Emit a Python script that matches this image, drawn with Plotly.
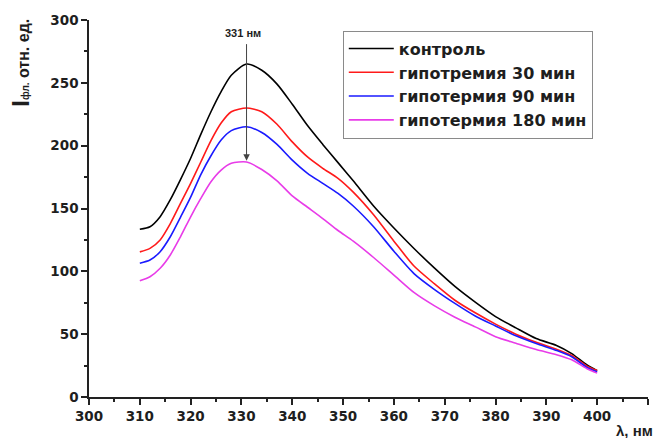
import plotly.graph_objects as go

wavelength = [310, 312, 314, 316, 318, 320, 322, 324, 326, 328, 331, 334, 337, 340, 343, 346, 349, 352,
              356, 360, 364, 368, 372, 376, 380, 384, 388, 392, 395, 398, 400]
control = [133.5, 135.5, 143.5, 157, 173, 190, 209, 227, 243, 256, 265, 260, 249, 233, 216, 201, 186.5, 172,
           152, 134.5, 118, 102.5, 88, 75.5, 64, 55, 46.5, 41, 34.5, 25.5, 21]
hypo30 = [115.5, 118.3, 125, 138, 154, 170, 187, 204, 218, 227, 230, 227, 217, 203, 191, 182, 174, 163,
          145, 124, 104, 90, 77, 67, 58, 50, 43.5, 38, 33, 24.5, 21]
hypo90 = [106.5, 109, 115.6, 127.5, 143, 159, 177, 192, 204.5, 212, 215, 210.5, 201, 188.5, 178, 170, 162, 152,
          135.5, 116, 98, 85.5, 74.5, 64.5, 56.5, 48.7, 42.5, 37, 32, 23.5, 20]
hypo180 = [92.5, 95.7, 102.4, 113, 127.5, 143.4, 158, 171.3, 180.6, 186, 187, 181, 172, 160, 151, 142, 132.5, 124,
           111, 97, 83, 72.5, 63.5, 55.8, 48, 42.8, 37.8, 33.7, 29.6, 22.5, 19]

series_names = ["контроль", "гипотремия 30 мин", "гипотермия 90 мин", "гипотермия 180 мин"]
series_values = [control, hypo30, hypo90, hypo180]
colors = ["#000000", "#ff1a1a", "#1a1aff", "#e83ce8"]

x_ticks = list(range(300, 411, 10))
y_ticks = list(range(0, 301, 50))
peak_x = 331
peak_label = "331 нм"

FONT = "Liberation Sans, Arial, sans-serif"
TXT = "#1e1e1e"

fig = go.Figure()
for name, vals, c in zip(series_names, series_values, colors):
    fig.add_trace(go.Scatter(x=wavelength, y=vals, mode="lines", name=name,
                             line=dict(color=c, width=1.6, shape="spline", smoothing=0.7)))

tick_font = dict(family="DejaVu Sans", size=13.5, color=TXT, weight="bold")

# page body has an 8px margin; figure sized so the page does not overflow
fig.update_layout(
    width=654, height=430,
    margin=dict(l=81, r=14, t=12, b=41),
    paper_bgcolor="white", plot_bgcolor="white",
    font=dict(family=FONT, size=15, color=TXT, weight="bold"),
    showlegend=True,
    legend=dict(x=0.454, y=0.972, xanchor="left", yanchor="top",
                bordercolor="#8a8a8a", borderwidth=1, bgcolor="white",
                font=dict(family="DejaVu Sans", size=16, color=TXT, weight="bold"),
                tracegroupgap=0, itemwidth=45),
    xaxis=dict(range=[300, 410], tickvals=x_ticks,
               tickfont=tick_font, automargin=False,
               showline=True, linecolor="#222", linewidth=1.5, ticks="outside", ticklen=6,
               tickwidth=1.5, tickcolor="#222", showgrid=False, zeroline=False,
               minor=dict(dtick=5, ticks="outside", ticklen=3, tickcolor="#222", tickwidth=1.5)),
    yaxis=dict(range=[0, 300], tickvals=y_ticks,
               tickfont=tick_font, automargin=False,
               showline=True, linecolor="#222", linewidth=1.5, ticks="outside", ticklen=6,
               tickwidth=1.5, tickcolor="#222", showgrid=False, zeroline=False,
               minor=dict(dtick=25, ticks="outside", ticklen=3, tickcolor="#222", tickwidth=1.5)),
)

# peak arrow
fig.add_annotation(x=peak_x, y=hypo180[wavelength.index(peak_x)] + 1, ax=peak_x, ay=282,
                   xref="x", yref="y", axref="x", ayref="y", text="", showarrow=True,
                   arrowhead=2, arrowsize=1.3, arrowwidth=1, arrowcolor="#444")
fig.add_annotation(x=330.4, y=289.5, xref="x", yref="y", text=f"<b>{peak_label}</b>", showarrow=False,
                   yanchor="middle", font=dict(family=FONT, size=11, color=TXT))

# axis titles
fig.add_annotation(x=-0.122, y=0.886, xref="paper", yref="paper", showarrow=False, textangle=-90,
                   xanchor="center", yanchor="middle",
                   text="<b><span style='font-size:24px'>I</span><span style='font-size:10px'>фл.</span> "
                        "<span style='font-size:16px'>отн. ед.</span></b>",
                   font=dict(family=FONT, size=16, color=TXT))
fig.add_annotation(x=1.0125, y=-0.09, xref="paper", yref="paper", showarrow=False,
                   xanchor="right", yanchor="middle", text="<b>λ, нм</b>",
                   font=dict(family=FONT, size=15, color=TXT))

fig.write_html("out.html")
